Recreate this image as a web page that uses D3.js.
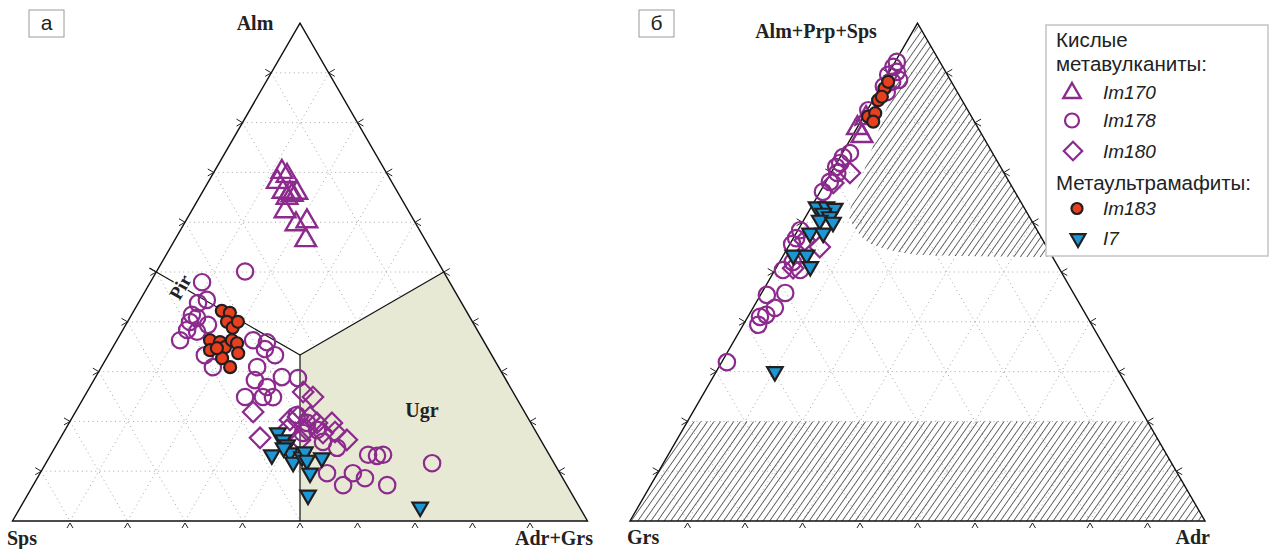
<!DOCTYPE html>
<html><head><meta charset="utf-8">
<script src="https://cdn.jsdelivr.net/npm/d3@7"></script>
<style>body{margin:0;background:#fff}svg{display:block}</style>
</head><body>
<svg id="chart" width="1271" height="549"></svg>
<script>
// Garnet compositions, mol.% — each point is [top apex, left apex, right apex]
// Panel а: Alm – Sps – (Adr+Grs)
const im170A = [
 [70.1,18.1,11.8],[69.3,17.6,13.1],[68.1,19.9,12.0],[66.1,19.9,14.0],[65.9,18.8,15.3],
 [65.9,17.6,16.5],[64.9,19.8,15.3],[62.2,21.5,16.3],[59.6,20.9,19.5],[60.2,18.7,21.1],
 [56.4,20.8,22.8],[65.5,18.6,15.9]
];
const im178A = [
 [50.1,34.5,15.4],[48.0,43.1,9.0],[44.4,44.0,11.6],[43.8,45.9,10.4],[41.4,48.1,10.5],
 [40.0,49.2,10.9],[40.8,47.5,11.7],[39.4,46.3,14.3],[38.4,50.5,11.2],[38.0,48.9,13.1],
 [36.3,52.7,11.0],[33.3,49.9,16.8],[30.9,49.7,19.4],[36.3,40.0,23.7],[35.9,37.8,26.3],
 [34.5,38.8,26.6],[33.3,37.7,29.0],[30.9,42.0,27.1],[28.3,43.7,28.0],[28.9,38.7,32.4],
 [28.7,36.0,35.3],[26.9,42.3,30.8],[24.9,47.1,28.0],[24.9,44.0,31.1],[24.9,42.3,32.9],
 [21.3,39.9,38.8],[19.7,38.9,41.4],[18.3,37.9,43.8],[17.7,40.7,41.7],[15.9,38.1,46.1],
 [14.7,36.2,49.1],[9.6,40.5,49.9],[7.2,38.9,53.9],[9.6,36.0,54.4],[8.6,34.4,57.0],
 [13.3,31.5,55.2],[13.1,30.1,56.9],[13.3,28.9,57.8],[7.2,31.2,61.5],[11.6,21.2,67.1]
];
const im180A = [
 [25.9,36.5,37.6],[24.9,35.3,39.8],[21.9,47.2,30.9],[16.7,48.6,34.7],[20.3,41.6,38.1],
 [20.9,39.9,39.2],[20.9,37.8,41.3],[19.7,37.2,43.1],[19.7,34.6,45.7],[17.9,35.0,47.2],
 [16.3,33.7,50.0],[17.7,37.2,45.2],[18.3,39.7,42.1],[16.3,41.9,41.9],[18.3,43.1,38.6]
];
const im183A = [
 [42.2,42.5,15.3],[41.8,41.3,16.9],[40.0,42.7,17.3],[38.8,42.3,18.9],[40.0,40.8,19.2],
 [36.3,47.5,16.2],[35.9,45.9,18.1],[34.9,45.6,19.5],[36.3,43.7,20.0],[35.7,43.1,21.2],
 [34.3,48.5,17.2],[32.7,47.2,20.1],[30.9,46.7,22.4],[33.7,43.9,22.4],[34.7,47.1,18.2]
];
const i7A = [
 [17.7,45.0,37.3],[16.3,44.8,38.9],[15.3,44.6,40.1],[13.3,48.3,38.5],[13.7,44.9,41.4],
 [11.8,45.3,42.9],[12.9,43.2,43.9],[13.9,42.2,43.9],[12.2,42.7,45.1],[9.6,43.4,46.9],
 [12.7,39.9,47.5],[5.2,46.0,48.8],[2.8,27.7,69.5],[14.7,45.5,39.8]
];

// Panel б: (Alm+Prp+Sps) – Grs – Adr
const im170B = [[78.9,21.0,0.1],[77.3,21.0,1.7],[80.9,18.5,0.6]];
const im178B = [
 [92.2,7.5,0.3],[91.2,8.6,0.2],[90.2,8.5,1.3],[89.6,10.3,0.1],[88.6,8.9,2.5],[88.2,10.3,1.5],
 [87.3,12.2,0.5],[86.1,12.3,1.6],[82.5,17.3,0.2],[73.9,24.8,1.3],[73.1,26.4,0.5],
 [71.9,27.5,0.6],[71.1,28.6,0.3],[69.9,29.0,1.1],[68.1,31.2,0.7],[66.1,33.4,0.5],
 [58.4,41.2,0.4],[56.8,42.7,0.5],[55.6,44.0,0.4],[52.0,45.7,2.3],[50.4,48.2,1.4],
 [50.4,45.2,4.4],[45.4,53.5,1.1],[45.8,50.1,4.1],[42.8,53.4,3.8],[41.0,56.9,2.1],
 [41.4,55.6,3.0],[39.4,58.0,2.6],[31.9,67.2,0.9]
];
const im180B = [[69.9,26.8,3.3],[67.9,30.7,1.4],[55.0,39.5,5.5],[50.8,46.3,3.0],[56.4,41.4,2.2]];
const im183B = [[86.9,12.3,0.8],[84.5,14.6,0.9],[85.2,13.6,1.2],[81.2,18.0,0.8],
 [81.9,16.4,1.7],[80.2,17.6,2.2],[88.2,11.0,0.8]];
const i7B = [
 [63.1,36.0,0.9],[63.1,34.3,2.6],[62.8,33.0,4.2],[61.8,35.5,2.7],[61.1,34.7,4.2],
 [60.4,36.8,2.8],[60.0,34.7,5.3],[57.8,39.8,2.4],[57.8,37.5,4.7],[53.4,44.9,1.7],
 [53.4,42.6,4.0],[51.1,43.1,5.8],[30.0,59.8,10.2]
];

// Field boundaries
const ugrField = [[0,0,100],[50,0,50],[100/3,100/3,100/3],[0,50,50]];
const fieldCentre = [100/3,100/3,100/3];
const fieldEnds = [[50,50,0],[50,0,50],[0,50,50]];
const hatchLow = [[0,100,0],[0,0,100],[20,0,80],[20,80,0]];
const hatchTopEdge = [[100,0,0],[61.4,31.4,7.2]];
const hatchTopCurve = [[61.4,31.4,7.2],[56.4,30.9,12.7],[53.8,25.3,20.9],[53.2,16.0,30.8],[53,0,47]];

const tickSteps = [10,20,30,40,50,60,70,80,90];
const gridSteps = tickSteps;

const PURPLE = "#8c2a8d", RED = "#e8401f", BLUE = "#1c97d4", DARK = "#231f20";

const svg = d3.select("#chart");
const SIDE = 575, HT = SIDE * Math.sqrt(3) / 2;

function ternary(x0, yB) {
  const xs = d3.scaleLinear().domain([0, 100]).range([x0, x0 + SIDE]);
  const ys = d3.scaleLinear().domain([0, 100]).range([yB, yB - HT]);
  const p = d => {
    const s = d[0] + d[1] + d[2];
    const a = d[0] / s * 100, c = d[2] / s * 100;
    return [xs(c + a / 2), ys(a)];
  };
  return { xs, ys, p };
}
const TA = ternary(12.5, 521), TB = ternary(630, 521);

const defs = svg.append("defs");
const pat = defs.append("pattern").attr("id", "hatch")
  .attr("patternUnits", "userSpaceOnUse").attr("width", 5.4).attr("height", 10)
  .attr("patternTransform", "rotate(35)");
pat.append("line").attr("x1", 0).attr("y1", -1).attr("x2", 0).attr("y2", 11)
  .attr("stroke", "#222").attr("stroke-width", 1.35);

function drawGrid(g, T) {
  const segs = [];
  gridSteps.forEach(k => {
    segs.push([[k, 100 - k, 0], [k, 0, 100 - k]]);
    segs.push([[0, 100 - k, k], [100 - k, 0, k]]);
    segs.push([[100 - k, k, 0], [0, k, 100 - k]]);
  });
  g.append("g").selectAll("line").data(segs).join("line")
    .attr("x1", s => T.p(s[0])[0]).attr("y1", s => T.p(s[0])[1])
    .attr("x2", s => T.p(s[1])[0]).attr("y2", s => T.p(s[1])[1])
    .attr("stroke", "#a8a8a8").attr("stroke-width", 1)
    .attr("stroke-dasharray", "1 3.5");
}

function drawFrame(g, T) {
  const corners = [[100, 0, 0], [0, 100, 0], [0, 0, 100]].map(T.p);
  g.append("path").attr("d", "M" + corners.join("L") + "Z")
    .attr("fill", "none").attr("stroke", "#111").attr("stroke-width", 1.4);
  const d = [];
  tickSteps.forEach(k => {
    const [bx, by] = T.p([0, 100 - k, k]);
    d.push(`M${bx - 3},${by + 7}L${bx},${by + 2}L${bx + 3},${by + 7}`);
    const [lx, ly] = T.p([k, 100 - k, 0]);
    d.push(`M${lx - 6},${ly - 3.5}L${lx},${ly}L${lx - 6},${ly + 3.5}`);
    const [rx, ry] = T.p([k, 0, 100 - k]);
    d.push(`M${rx + 6},${ry - 3.5}L${rx},${ry}L${rx + 6},${ry + 3.5}`);
  });
  g.append("path").attr("d", d.join("")).attr("fill", "none")
    .attr("stroke", "#222").attr("stroke-width", 1);
}

function drawPoints(g, T, sets) {
  const [s170, s178, s180, s183, s7] = sets;
  g.append("g").selectAll("circle").data(s178).join("circle")
    .attr("cx", d => T.p(d)[0]).attr("cy", d => T.p(d)[1]).attr("r", 8.2)
    .attr("fill", "none").attr("stroke", PURPLE).attr("stroke-width", 2.2);
  const dia = d3.symbol().type(d3.symbolSquare).size(210);
  g.append("g").selectAll("path").data(s180).join("path")
    .attr("d", dia).attr("transform", d => `translate(${T.p(d)}) rotate(45)`)
    .attr("fill", "none").attr("stroke", PURPLE).attr("stroke-width", 2.2);
  const tri = d3.symbol().type(d3.symbolTriangle).size(185);
  g.append("g").selectAll("path").data(s170).join("path")
    .attr("d", tri).attr("transform", d => `translate(${T.p(d)})`)
    .attr("fill", "none").attr("stroke", PURPLE).attr("stroke-width", 2.4);
  g.append("g").selectAll("circle").data(s183).join("circle")
    .attr("cx", d => T.p(d)[0]).attr("cy", d => T.p(d)[1]).attr("r", 6)
    .attr("fill", RED).attr("stroke", DARK).attr("stroke-width", 2.2);
  const tri7 = d3.symbol().type(d3.symbolTriangle).size(105);
  g.append("g").selectAll("path").data(s7).join("path")
    .attr("d", tri7).attr("transform", d => `translate(${T.p(d)}) rotate(180)`)
    .attr("fill", BLUE).attr("stroke", DARK).attr("stroke-width", 2.2)
    .attr("stroke-linejoin", "miter");
}

function axisLabel(x, y, text, anchor) {
  svg.append("text").attr("x", x).attr("y", y).attr("text-anchor", anchor)
    .attr("font-family", "'Liberation Serif','Times New Roman',serif")
    .attr("font-weight", "bold").attr("font-size", 20).attr("fill", "#222").text(text);
}

// ---------- Panel а ----------
const gA = svg.append("g");
drawGrid(gA, TA);
gA.append("path").attr("d", "M" + ugrField.map(TA.p).join("L") + "Z")
  .attr("fill", "#e8e9d4").attr("stroke", "none");
const c0 = TA.p(fieldCentre);
fieldEnds.forEach((e, i) => {
  const e1 = TA.p(e);
  const dx = e1[0] - c0[0], dy = e1[1] - c0[1], L = Math.hypot(dx, dy);
  const ext = i === 0 ? 8 : 0;
  gA.append("line").attr("x1", c0[0]).attr("y1", c0[1])
    .attr("x2", e1[0] + dx / L * ext).attr("y2", e1[1] + dy / L * ext)
    .attr("stroke", "#111").attr("stroke-width", 1.2);
});
drawFrame(gA, TA);
svg.append("text").attr("transform", "translate(180,287) rotate(-60)")
  .attr("text-anchor", "middle").attr("dy", "0.35em")
  .attr("font-family", "'Liberation Serif','Times New Roman',serif")
  .attr("font-weight", "bold").attr("font-size", 19).attr("fill", "#222")
  .attr("stroke", "#fff").attr("stroke-width", 3).attr("paint-order", "stroke")
  .text("Pir");
drawPoints(gA, TA, [im170A, im178A, im180A, im183A, i7A]);

axisLabel(255, 30, "Alm", "middle");
axisLabel(7, 545, "Sps", "start");
axisLabel(593, 545, "Adr+Grs", "end");
axisLabel(422, 417, "Ugr", "middle");

// ---------- Panel б ----------
const gB = svg.append("g");
drawGrid(gB, TB);
gB.append("path").attr("d", "M" + hatchLow.map(TB.p).join("L") + "Z").attr("fill", "url(#hatch)");
const curveD = d3.line().curve(d3.curveCatmullRom.alpha(0.5))(hatchTopCurve.map(TB.p));
gB.append("path")
  .attr("d", "M" + TB.p(hatchTopEdge[0]) + "L" + curveD.slice(1) + "Z")
  .attr("fill", "url(#hatch)");
drawFrame(gB, TB);
drawPoints(gB, TB, [im170B, im178B, im180B, im183B, i7B]);

axisLabel(816, 38, "Alm+Prp+Sps", "middle");
axisLabel(627, 544, "Grs", "start");
axisLabel(1210, 544, "Adr", "end");

// ---------- panel letters ----------
[[29, 10, "а"], [639, 10, "б"]].forEach(([x, y, t]) => {
  svg.append("rect").attr("x", x).attr("y", y).attr("width", 35).attr("height", 27)
    .attr("fill", "#fff").attr("stroke", "#9a9a9a").attr("stroke-width", 1);
  svg.append("text").attr("x", x + 17.5).attr("y", y + 20).attr("text-anchor", "middle")
    .attr("font-family", "'Liberation Sans',Arial,sans-serif").attr("font-size", 21)
    .attr("fill", "#222").text(t);
});

// ---------- legend ----------
const lg = svg.append("g");
lg.append("rect").attr("x", 1046).attr("y", 25).attr("width", 222).attr("height", 231)
  .attr("fill", "#fff").attr("stroke", "#c4c4c4").attr("stroke-width", 1.5);
const legText = (x, y, t, italic) => lg.append("text").attr("x", x).attr("y", y)
  .attr("font-family", "'Liberation Sans',Arial,sans-serif").attr("font-size", italic ? 19 : 20.5)
  .attr("font-style", italic ? "italic" : "normal").attr("fill", "#222").text(t);
legText(1056, 47, "Кислые");
legText(1056, 71, "метавулканиты:");
legText(1056, 190, "Метаультрамафиты:");
const legItems = [
  { name: "Im170", y: 92, kind: "tri" },
  { name: "Im178", y: 120.5, kind: "circ" },
  { name: "Im180", y: 151, kind: "dia" },
  { name: "Im183", y: 208.5, kind: "red" },
  { name: "I7", y: 238.5, kind: "blue" }
];
legItems.forEach(it => {
  legText(1103, it.y + 6.5, it.name, true);
  if (it.kind === "tri") lg.append("path").attr("d", d3.symbol().type(d3.symbolTriangle).size(130)())
    .attr("transform", `translate(1072,${it.y + 1})`).attr("fill", "none").attr("stroke", PURPLE).attr("stroke-width", 2.4);
  if (it.kind === "circ") lg.append("circle").attr("cx", 1072).attr("cy", it.y).attr("r", 7)
    .attr("fill", "none").attr("stroke", PURPLE).attr("stroke-width", 2.2);
  if (it.kind === "dia") lg.append("path").attr("d", d3.symbol().type(d3.symbolSquare).size(170)())
    .attr("transform", `translate(1073,${it.y}) rotate(45)`).attr("fill", "none").attr("stroke", PURPLE).attr("stroke-width", 2.2);
  if (it.kind === "red") lg.append("circle").attr("cx", 1077).attr("cy", it.y).attr("r", 5.5)
    .attr("fill", RED).attr("stroke", DARK).attr("stroke-width", 2.2);
  if (it.kind === "blue") lg.append("path").attr("d", d3.symbol().type(d3.symbolTriangle).size(95)())
    .attr("transform", `translate(1078,${it.y}) rotate(180)`).attr("fill", BLUE).attr("stroke", DARK).attr("stroke-width", 2.2);
});
</script>
</body></html>
